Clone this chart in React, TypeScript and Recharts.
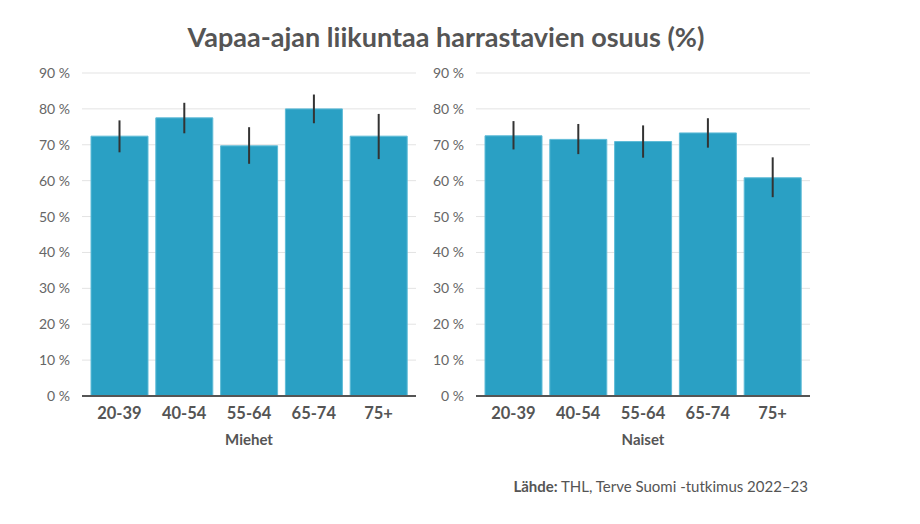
import React from 'react';
import { BarChart, Bar, XAxis, YAxis, CartesianGrid, ErrorBar } from 'recharts';

const categories = ['20-39', '40-54', '55-64', '65-74', '75+'];
const menValues = [72.4, 77.5, 69.7, 80.0, 72.4];
const menLow = [67.9, 73.2, 64.7, 76.0, 66.0];
const menHigh = [76.8, 81.7, 74.9, 84.0, 78.6];
const womenValues = [72.5, 71.5, 70.9, 73.3, 60.8];
const womenLow = [68.7, 67.4, 66.4, 69.2, 55.4];
const womenHigh = [76.6, 75.8, 75.4, 77.4, 66.5];
const yTicks = [0, 10, 20, 30, 40, 50, 60, 70, 80, 90];

const FONT = 'Lato, "Open Sans", sans-serif';
const BAR = '#2aa0c4';

function build(values: number[], low: number[], high: number[]) {
  return categories.map((c, i) => ({
    cat: c,
    v: values[i],
    err: [values[i] - low[i], high[i] - values[i]],
  }));
}

const XTick = (props: any) => {
  const { x, y, payload } = props;
  return (
    <text x={x} y={y} dy={15} textAnchor="middle" fill="#555" fontFamily={FONT} fontSize={16.5} fontWeight={700}>
      {payload.value}
    </text>
  );
};

function Panel({ data, label, left }: { data: any[]; label: string; left: number }) {
  return (
    <div style={{ position: 'absolute', left, top: 0 }}>
      <BarChart
        width={440}
        height={470}
        data={data}
        margin={{ top: 73, right: 24, left: 22, bottom: 14 }}
        barCategoryGap={4}
      >
        <CartesianGrid vertical={false} stroke="#e3e3e3" />
        <XAxis
          dataKey="cat"
          height={60}
          tickLine={false}
          axisLine={{ stroke: '#555', strokeWidth: 2 }}
          tick={<XTick />}
          padding={{ left: 5, right: 5 }}
          interval={0}
          label={{ value: label, position: 'insideBottom', offset: 11, fill: '#555', fontFamily: FONT, fontSize: 15, fontWeight: 700 }}
        />
        <YAxis
          domain={[0, 90]}
          ticks={yTicks}
          width={60}
          tickLine={false}
          axisLine={false}
          tickFormatter={(v: number) => `${v} %`}
          tick={{ fill: '#666', fontFamily: FONT, fontSize: 14 }}
          tickMargin={6}
        />
        <Bar dataKey="v" fill={BAR} stroke="#5ebbd7" strokeWidth={1} isAnimationActive={false}>
          <ErrorBar dataKey="err" width={0} stroke="#333" strokeWidth={2} isAnimationActive={false} />
        </Bar>
      </BarChart>
    </div>
  );
}

export default function App() {
  const men = build(menValues, menLow, menHigh);
  const women = build(womenValues, womenLow, womenHigh);
  return (
    <div style={{ position: 'absolute', left: 0, top: 0, width: 920, height: 524, background: '#fff', fontFamily: FONT }}>
      <div
        style={{
          position: 'absolute',
          left: 0,
          width: 892,
          top: 20,
          textAlign: 'center',
          fontSize: 27,
          fontWeight: 700,
          color: '#555',
          lineHeight: '34px',
        }}
      >
        Vapaa-ajan liikuntaa harrastavien osuus (%)
      </div>
      <Panel data={men} label="Miehet" left={0} />
      <Panel data={women} label="Naiset" left={394} />
      <div
        style={{
          position: 'absolute',
          right: 112,
          top: 477,
          fontSize: 15,
          color: '#555',
          lineHeight: '18px',
          whiteSpace: 'nowrap',
        }}
      >
        <b>Lähde:</b> THL, Terve Suomi -tutkimus 2022–23
      </div>
    </div>
  );
}
